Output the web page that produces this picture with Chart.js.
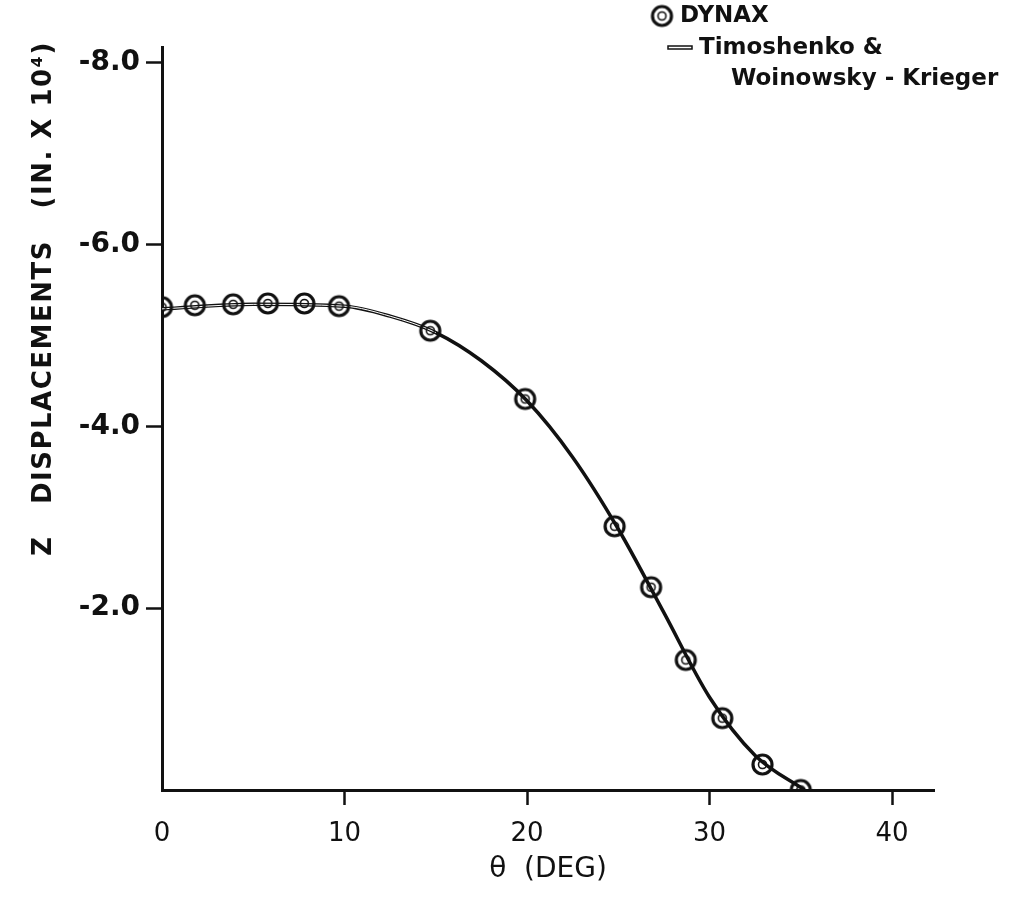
<!DOCTYPE html>
<html>
<head>
<meta charset="utf-8">
<script src="https://cdn.jsdelivr.net/npm/chart.js@4.4.1/dist/chart.umd.min.js"></script>
<style>
  html, body { margin: 0; padding: 0; background: #fff; }
  #wrap { width: 1021px; height: 920px; }
</style>
</head>
<body>
<div id="wrap"><canvas id="c" width="1021" height="920"></canvas></div>
<script>
// ---- data ----
const dynaxTheta = [0, 1.8, 3.9, 5.8, 7.8, 9.7, 14.7, 19.9, 24.8, 26.8, 28.7, 30.7, 32.9, 35.0];
const dynaxZ     = [-5.31, -5.33, -5.34, -5.35, -5.35, -5.32, -5.05, -4.30, -2.90, -2.23, -1.43, -0.79, -0.28, 0.0];

const theoryTheta = [0, 5, 10, 12.5, 15, 17.5, 20, 22.5, 25, 27.5, 30, 32.5, 35.2];
const theoryZ     = [-5.29, -5.34, -5.32, -5.21, -5.03, -4.72, -4.28, -3.66, -2.87, -1.95, -1.02, -0.38, 0.0];

const xTicks = [0, 10, 20, 30, 40];
const yTicks = [-8, -6, -4, -2];

const legendLabels = ['DYNAX', 'Timoshenko &', 'Woinowsky - Krieger'];
const yTitle = 'Z   DISPLACEMENTS   (IN. X 10\u2074)';
const xTitle = '\u03B8  (DEG)';

const INK = '#111';

// bullseye marker
function makeMarker(r) {
  const s = Math.ceil(r * 2 + 6);
  const cv = document.createElement('canvas');
  cv.width = s; cv.height = s;
  const g = cv.getContext('2d');
  g.strokeStyle = INK;
  g.lineWidth = 3.2;
  g.beginPath(); g.arc(s / 2, s / 2, r, 0, Math.PI * 2); g.stroke();
  g.lineWidth = 1.6;
  g.beginPath(); g.arc(s / 2, s / 2, r * 0.42, 0, Math.PI * 2); g.stroke();
  return cv;
}
const marker = makeMarker(9.5);

const toXY = (xs, ys) => xs.map((x, i) => ({ x: x, y: ys[i] }));

const annotatePlugin = {
  id: 'annotate',
  afterDraw(chart) {
    const ctx = chart.ctx;
    ctx.save();
    ctx.fillStyle = INK;
    ctx.strokeStyle = INK;
    // legend
    ctx.font = 'bold 23px "DejaVu Sans"';
    ctx.textBaseline = 'middle';
    ctx.textAlign = 'left';
    ctx.drawImage(marker, 662 - marker.width / 2, 16 - marker.height / 2);
    ctx.fillText(legendLabels[0], 680, 16);
    ctx.lineWidth = 1.5;
    ctx.strokeRect(668, 46, 24, 3);
    ctx.fillText(legendLabels[1], 699, 48);
    ctx.fillText(legendLabels[2], 731, 79);
    // y title
    ctx.save();
    ctx.translate(44, 556);
    ctx.rotate(-Math.PI / 2);
    ctx.font = 'bold 26px "DejaVu Sans"';
    try { ctx.letterSpacing = '1.5px'; } catch (e) {}
    ctx.textAlign = 'left';
    ctx.textBaseline = 'middle';
    ctx.fillText(yTitle, 0, 0);
    ctx.restore();
    ctx.restore();
  }
};

new Chart(document.getElementById('c'), {
  type: 'line',
  data: {
    datasets: [
      {
        label: legendLabels[1] + ' ' + legendLabels[2],
        data: toXY(theoryTheta, theoryZ),
        borderColor: INK,
        borderWidth: 3.5,
        pointRadius: 0,
        fill: false,
        cubicInterpolationMode: 'monotone',
        order: 3
      },
      {
        label: 'hollow core',
        data: toXY(theoryTheta, theoryZ),
        borderColor: '#fff',
        borderWidth: 1.0,
        pointRadius: 0,
        fill: false,
        cubicInterpolationMode: 'monotone',
        segment: { borderColor: (c) => c.p0.parsed.x < 14 ? '#fff' : 'rgba(255,255,255,0)' },
        order: 2
      },
      {
        label: legendLabels[0],
        data: toXY(dynaxTheta, dynaxZ),
        showLine: false,
        pointStyle: marker,
        pointRadius: 10,
        order: 1
      }
    ]
  },
  options: {
    responsive: false,
    animation: false,
    layout: { padding: { top: 47, right: 87, left: 0, bottom: 0 } },
    plugins: { legend: { display: false }, tooltip: { enabled: false } },
    scales: {
      x: {
        type: 'linear',
        min: 0,
        max: 42.3,
        afterFit(s) { s.height = 130; },
        afterBuildTicks(s) { s.ticks = xTicks.map(v => ({ value: v })); },
        border: { display: true, color: INK, width: 3 },
        grid: {
          display: true,
          drawOnChartArea: false,
          drawTicks: true,
          tickLength: 15,
          tickWidth: 2.5,
          tickColor: (c) => (c.tick && c.tick.value === 0) ? 'rgba(0,0,0,0)' : INK
        },
        ticks: {
          color: INK,
          padding: 14,
          font: { family: 'DejaVu Sans', size: 26 },
          callback: (v) => String(v)
        },
        title: {
          display: true,
          text: xTitle,
          color: INK,
          font: { family: 'DejaVu Sans', size: 28 },
          padding: { top: 0, bottom: 33 }
        }
      },
      y: {
        type: 'linear',
        reverse: true,
        min: -8.17,
        max: 0,
        afterFit(s) { s.width = 162; },
        afterBuildTicks(s) { s.ticks = yTicks.map(v => ({ value: v })); },
        border: { display: true, color: INK, width: 3 },
        grid: {
          display: true,
          drawOnChartArea: false,
          drawTicks: true,
          tickLength: 16,
          tickWidth: 2.5,
          tickColor: INK
        },
        ticks: {
          color: INK,
          padding: 6,
          font: { family: 'DejaVu Sans', size: 28, weight: 'bold' },
          callback: (v) => '-' + Math.abs(v).toFixed(1)
        }
      }
    }
  },
  plugins: [annotatePlugin]
});
</script>
</body>
</html>
